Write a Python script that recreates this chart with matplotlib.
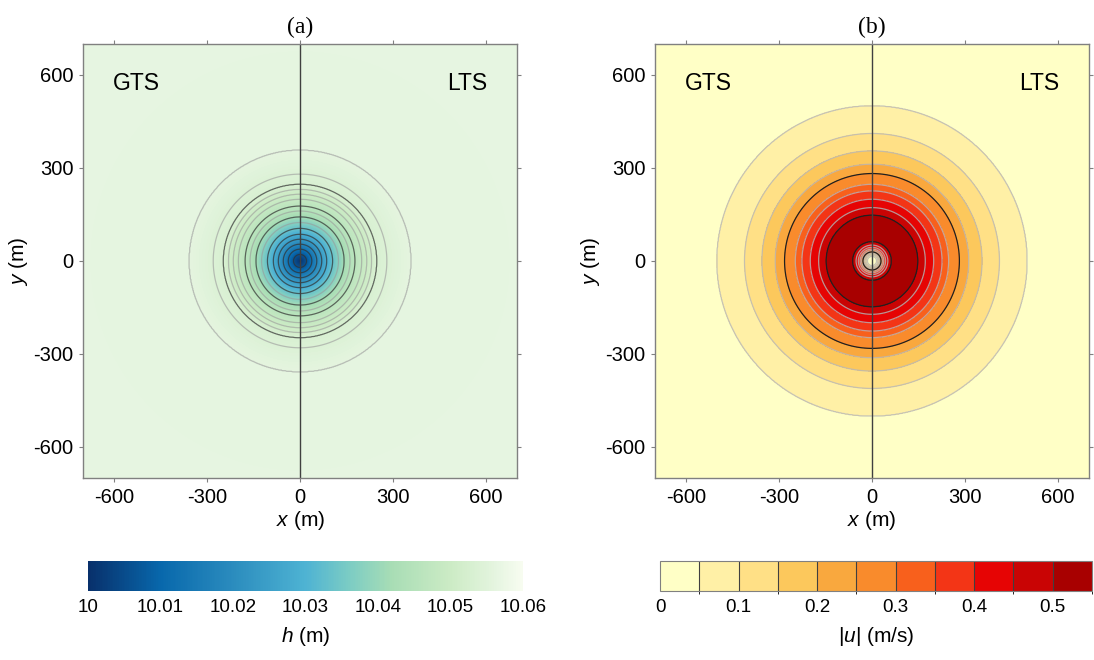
import matplotlib
matplotlib.use("Agg")
import matplotlib.pyplot as plt
import numpy as np
from matplotlib.colors import LinearSegmentedColormap, ListedColormap, BoundaryNorm, Normalize
from matplotlib.cm import ScalarMappable

plt.rcParams['font.family'] = ['Liberation Sans', 'DejaVu Sans']
plt.rcParams['mathtext.fontset'] = 'custom'
plt.rcParams['mathtext.rm'] = 'Liberation Sans'
plt.rcParams['mathtext.it'] = 'Liberation Sans:italic'
plt.rcParams['axes.unicode_minus'] = False

# radial profile of water depth h (radius in m -> h in m)
h_r = [0, 21, 38, 54, 70, 86, 105, 124, 142, 161, 177, 199, 215, 231, 247, 280, 357, 1000]
h_v = [10.000, 10.006, 10.012, 10.018, 10.023, 10.028, 10.033, 10.037, 10.041,
       10.044, 10.046, 10.048, 10.050, 10.051, 10.053, 10.054, 10.056, 10.0565]
h_dark_levels = [10.006, 10.012, 10.018, 10.023, 10.028, 10.033, 10.041, 10.046, 10.053]
h_gray_levels = [10.037, 10.044, 10.048, 10.050, 10.051, 10.054, 10.056]
h_ticks = [10, 10.01, 10.02, 10.03, 10.04, 10.05, 10.06]

# radial profile of speed |u| (radius in m -> m/s)
u_r = [0, 15, 19, 23, 26, 29, 33, 38, 44, 51, 62, 100, 148, 172, 199, 226, 247, 282,
       312, 355, 411, 500, 1000]
u_v = [0, 0.05, 0.10, 0.15, 0.20, 0.25, 0.30, 0.35, 0.40, 0.45, 0.50, 0.545, 0.50,
       0.45, 0.40, 0.35, 0.30, 0.25, 0.20, 0.15, 0.10, 0.05, 0.02]
u_levels = [0, 0.05, 0.10, 0.15, 0.20, 0.25, 0.30, 0.35, 0.40, 0.45, 0.50, 0.55]
u_black_levels = [0.25, 0.50]
u_ticks = [0, 0.1, 0.2, 0.3, 0.4, 0.5]
u_colors = ['#ffffc6', '#fff0a6', '#ffe086', '#fcc85c', '#f9a83e', '#f98b2c',
            '#f8601c', '#f33516', '#e60404', '#c90404', '#a80000']

axis_ticks = [-600, -300, 0, 300, 600]

h_cmap = LinearSegmentedColormap.from_list(
    'h', [(0.0, '#08306b'), (1 / 6, '#0868ac'), (2 / 6, '#2b8cbe'), (0.5, '#4eb3d3'),
          (0.6, '#7bccc4'), (0.7, '#a8ddb5'), (5 / 6, '#ccebc5'), (0.92, '#e0f3db'),
          (1.0, '#f7fcf0')])
u_cmap = ListedColormap(u_colors)

# grid
xg = np.linspace(-700, 700, 701)
X, Y = np.meshgrid(xg, xg)
R = np.hypot(X, Y)
H = np.interp(R, h_r, h_v)
U = np.interp(R, u_r, u_v)

fig = plt.figure(figsize=(10.94, 6.6), dpi=100)
ax1 = fig.add_axes([0.0759, 0.2758, 0.3967, 0.6576])
ax2 = fig.add_axes([0.5987, 0.2758, 0.3967, 0.6576])
cax1 = fig.add_axes([0.0804, 0.1045, 0.3976, 0.0455])
cax2 = fig.add_axes([0.6033, 0.1045, 0.3949, 0.0455])

h_norm = Normalize(10.0, 10.06)
ax1.contourf(X, Y, H, levels=np.linspace(10.0, 10.06, 241), cmap=h_cmap, norm=h_norm)
ax1.contour(X, Y, H, levels=h_gray_levels, colors='#9a9a9a', linewidths=0.9, alpha=0.6)
ax1.contour(X, Y, H, levels=h_dark_levels, colors='#303030', linewidths=0.9, alpha=0.7)

u_norm = BoundaryNorm(u_levels, u_cmap.N)
ax2.contourf(X, Y, U, levels=u_levels, cmap=u_cmap, norm=u_norm)
gray_u = [lv for lv in u_levels[1:-1] if lv not in u_black_levels]
ax2.contour(X, Y, U, levels=gray_u, colors='#b8b8b8', linewidths=0.9, alpha=0.8)
ax2.contour(X, Y, U, levels=u_black_levels, colors='#202020', linewidths=0.9)

for ax, title in [(ax1, '(a)'), (ax2, '(b)')]:
    ax.axvline(0, color='#404040', lw=1.0)
    ax.set_xlim(-700, 700)
    ax.set_ylim(-700, 700)
    ax.set_xticks(axis_ticks)
    ax.set_yticks(axis_ticks)
    ax.tick_params(direction='out', length=3, width=0.8, color='#808080',
                   labelsize=14.5, top=True, right=True, pad=4)
    for sp in ax.spines.values():
        sp.set_color('#808080')
        sp.set_linewidth(1.0)
    ax.set_xlabel('$x$ (m)', fontsize=15, labelpad=2)
    ax.set_ylabel('$y$ (m)', fontsize=15, labelpad=2)
    ax.set_title(title, fontsize=17, family='Liberation Serif', pad=8)
    ax.text(-603, 571, 'GTS', fontsize=16.5, ha='left', va='center')
    ax.text(603, 571, 'LTS', fontsize=16.5, ha='right', va='center')

cb1 = fig.colorbar(ScalarMappable(norm=h_norm, cmap=h_cmap), cax=cax1,
                   orientation='horizontal', ticks=h_ticks)
cb1.ax.set_xticklabels(['10', '10.01', '10.02', '10.03', '10.04', '10.05', '10.06'])
cb1.outline.set_visible(False)
cb1.ax.tick_params(length=0, labelsize=13.5, pad=6)
cb1.set_label('$h$ (m)', fontsize=15, labelpad=6)

cb2 = fig.colorbar(ScalarMappable(norm=u_norm, cmap=u_cmap), cax=cax2,
                   orientation='horizontal', ticks=u_ticks, drawedges=True,
                   boundaries=u_levels)
cb2.ax.set_xticklabels(['0', '0.1', '0.2', '0.3', '0.4', '0.5'])
cb2.outline.set_edgecolor('#808080')
cb2.dividers.set_color('#404040')
cb2.dividers.set_linewidth(0.8)
cb2.ax.tick_params(length=0, labelsize=13.5, pad=6)
cb2.set_label('$|u|$ (m/s)', fontsize=15, labelpad=6)

fig.savefig('out.png', dpi=100)
